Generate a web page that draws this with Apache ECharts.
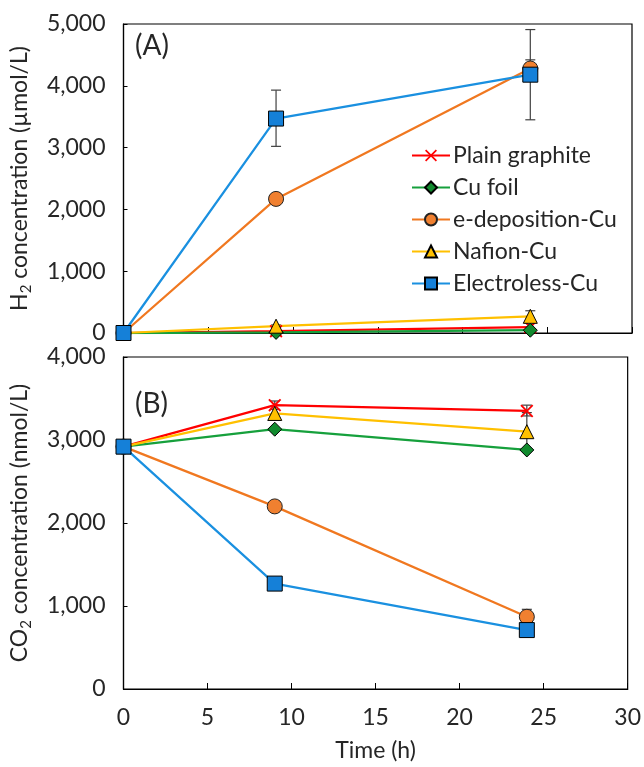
<!DOCTYPE html>
<html>
<head>
<meta charset="utf-8">
<script src="https://cdn.jsdelivr.net/npm/echarts@6/dist/echarts.min.js"></script>
<style>
  html, body { margin: 0; padding: 0; background: #fff; }
  #chart { width: 644px; height: 767px; }
</style>
</head>
<body>
<div id="chart"></div>
<script>
const seriesNames = ["Plain graphite", "Cu foil", "e-deposition-Cu", "Nafion-Cu", "Electroless-Cu"];
const timeHours = [0, 9, 24];
const xTicks = [0, 5, 10, 15, 20, 25, 30];

// (A) H2 concentration, µmol/L
const h2Plain = [0, 30, 95];
const h2Foil = [0, 10, 45];
const h2Edep = [0, 2170, 4280];
const h2Nafion = [0, 110, 270];
const h2Electroless = [0, 3470, 4180];

// (B) CO2 concentration, nmol/L
const co2Plain = [2920, 3420, 3350];
const co2Foil = [2920, 3130, 2880];
const co2Edep = [2920, 2200, 870];
const co2Nafion = [2920, 3320, 3100];
const co2Electroless = [2920, 1270, 710];

// error bars: [time, low, high]
const h2Errors = [
  [9, 3020, 3930], [24, 3450, 4910],   // Electroless-Cu
  [24, 4140, 4420],                    // e-deposition-Cu
  [24, 180, 360], [9, 90, 130]         // Nafion-Cu
];
const co2Errors = [
  [9, 3370, 3470], [24, 3290, 3420],   // Plain graphite
  [24, 2870, 3330],                    // Nafion-Cu
  [24, 790, 960]                       // e-deposition-Cu
];

const styles = [
  { line: "#FF0000", fill: "#FF0000", border: "#FF0000", symbol: "path://M0,1 L1,0 L5,4 L9,0 L10,1 L6,5 L10,9 L9,10 L5,6 L1,10 L0,9 L4,5 Z", size: 13, bw: 0 },
  { line: "#16A03C", fill: "#118A2E", border: "#000", symbol: "diamond", size: 14, bw: 1 },
  { line: "#F07820", fill: "#F08030", border: "#222", symbol: "circle", size: 15, bw: 1 },
  { line: "#FFC000", fill: "#FFC000", border: "#000", symbol: "triangle", size: 14, bw: 1 },
  { line: "#1A90E0", fill: "#1580D8", border: "#000", symbol: "rect", size: 15, bw: 1 },
];

const fontFamily = "Lato, 'Open Sans', sans-serif";
const textColor = "#262626";
const fontSize = 23;
const fmt = (v) => v.toLocaleString("en-US");

function makeLine(name, values, st, idx) {
  return {
    name: name,
    type: "line",
    xAxisIndex: idx,
    yAxisIndex: idx,
    data: values.map((v, i) => [timeHours[i], v]),
    symbol: st.symbol,
    symbolSize: st.size,
    showAllSymbol: true,
    z: 3,
    lineStyle: { color: st.line, width: 2.25 },
    itemStyle: { color: st.fill, borderColor: st.border, borderWidth: st.bw },
    emphasis: { disabled: true },
    animation: false,
  };
}

function makeErrors(data, idx) {
  return {
    type: "custom",
    xAxisIndex: idx,
    yAxisIndex: idx,
    z: 2,
    silent: true,
    data: data,
    encode: { x: 0, y: [1, 2] },
    renderItem: (params, api) => {
      const lo = api.coord([api.value(0), api.value(1)]);
      const hi = api.coord([api.value(0), api.value(2)]);
      const cap = 5;
      const s = { stroke: "#404040", lineWidth: 1.2 };
      return {
        type: "group",
        children: [
          { type: "line", shape: { x1: lo[0], y1: lo[1], x2: hi[0], y2: hi[1] }, style: s },
          { type: "line", shape: { x1: lo[0] - cap, y1: lo[1], x2: lo[0] + cap, y2: lo[1] }, style: s },
          { type: "line", shape: { x1: hi[0] - cap, y1: hi[1], x2: hi[0] + cap, y2: hi[1] }, style: s },
        ],
      };
    },
    animation: false,
  };
}

function xAxis(idx, showLabels) {
  return {
    type: "value",
    gridIndex: idx,
    min: 0,
    max: 30,
    interval: 5,
    axisLine: { show: true, onZero: false, lineStyle: { color: "#000", width: 1.2 } },
    axisTick: { show: true, inside: true, length: 6, lineStyle: { color: "#000" } },
    axisLabel: { show: showLabels, margin: 17, fontSize, color: textColor, fontFamily },
    splitLine: { show: false },
    name: showLabels ? "Time (h)" : "",
    nameLocation: "middle",
    nameGap: 50,
    nameTextStyle: { fontSize, color: textColor, fontFamily },
  };
}

function yAxis(idx, max, gas, unit) {
  return {
    type: "value",
    gridIndex: idx,
    min: 0,
    max: max,
    interval: 1000,
    axisLine: { show: true, lineStyle: { color: "#000", width: 1.2 } },
    axisTick: { show: true, inside: true, length: 4, lineStyle: { color: "#000" } },
    axisLabel: { margin: 18, fontSize, color: textColor, fontFamily, formatter: fmt },
    splitLine: { show: false },
    name: `{m|${gas}}{s|2}{m| concentration (${unit})}`,
    nameLocation: "middle",
    nameGap: 90,
    nameTextStyle: {
      fontFamily,
      rich: {
        m: { fontSize, color: textColor, fontFamily, lineHeight: 28, verticalAlign: "middle" },
        s: { fontSize: 15, color: textColor, fontFamily, lineHeight: 28, verticalAlign: "bottom", padding: [9, 0, 0, 0] },
      },
    },
  };
}

const chart = echarts.init(document.getElementById("chart"), null, { renderer: "canvas" });

const series = [];
const h2Sets = [h2Plain, h2Foil, h2Edep, h2Nafion, h2Electroless];
const co2Sets = [co2Plain, co2Foil, co2Edep, co2Nafion, co2Electroless];
series.push(makeErrors(h2Errors, 0));
series.push(makeErrors(co2Errors, 1));
seriesNames.forEach((n, i) => series.push(makeLine(n, h2Sets[i], styles[i], 0)));
seriesNames.forEach((n, i) => series.push(makeLine(n, co2Sets[i], styles[i], 1)));

chart.setOption({
  animation: false,
  backgroundColor: "#fff",
  grid: [
    { left: 121, right: 12, top: 24, height: 309, show: true, borderColor: "#000", borderWidth: 1.2, backgroundColor: "transparent" },
    { left: 121, right: 12, top: 357, height: 332, show: true, borderColor: "#000", borderWidth: 1.2, backgroundColor: "transparent" },
  ],
  xAxis: [xAxis(0, false), xAxis(1, true)],
  yAxis: [yAxis(0, 5000, "H", "µmol/L"), yAxis(1, 4000, "CO", "nmol/L")],
  legend: {
    data: seriesNames,
    orient: "vertical",
    left: 406,
    top: 139,
    itemGap: 9,
    itemWidth: 38,
    itemHeight: 15,
    textStyle: { fontSize, color: textColor, fontFamily, padding: [0, 0, 0, -2] },
    selectedMode: false,
  },
  graphic: [
    { type: "text", left: 135, top: 32, style: { text: "(A)", fontSize: 28, fill: textColor, fontFamily } },
    { type: "text", left: 135, top: 390, style: { text: "(B)", fontSize: 28, fill: textColor, fontFamily } },
  ],
  series: series,
});
</script>
</body>
</html>
